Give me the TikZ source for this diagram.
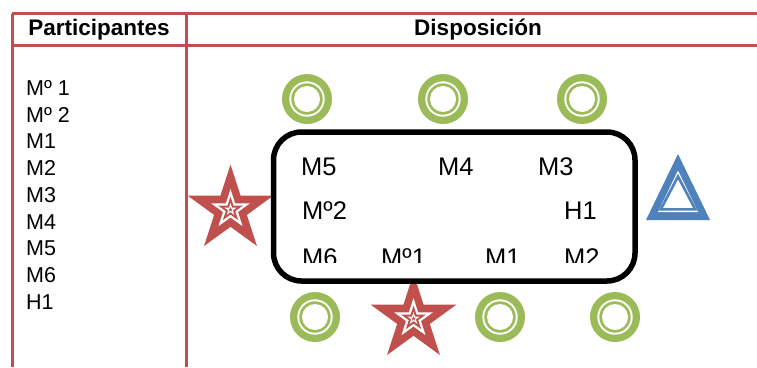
\documentclass[tikz,border=0pt]{standalone}
\usepackage{fontspec}
\setmainfont{Liberation Sans}
\definecolor{tred}{HTML}{C0504D}
\definecolor{tgreen}{HTML}{9BBB59}
\definecolor{tblue}{HTML}{4F81BD}
\newcommand\starpts[1]{(270:#1) -- (306:#1*0.382) -- (342:#1) -- (18:#1*0.382) -- (54:#1) -- (90:#1*0.382) -- (126:#1) -- (162:#1*0.382) -- (198:#1) -- (234:#1*0.382) -- cycle}
\tikzset{
  tline/.style={draw=tred, line width=3bp},
  body/.style={inner sep=0pt, anchor=base west, font=\fontsize{21.5bp}{26bp}\selectfont},
  seat/.style={inner sep=0pt, anchor=base west, font=\fontsize{25.5bp}{30bp}\selectfont},
  head/.style={inner sep=0pt, anchor=base, font=\fontsize{22.5bp}{27bp}\selectfont\bfseries},
  ring/.pic={
    \fill[tgreen] (0,0) circle (25);
    \fill[white] (0,0) circle (17.7);
    \fill[tgreen] (0,0) circle (15.7);
    \fill[white] (0,0) circle (13);
  },
  redstar/.pic={
    \fill[tred] \starpts{45};
    \fill[white] \starpts{20.5};
    \fill[tred] \starpts{13};
    \fill[white] \starpts{6.5};
    \fill[tred] \starpts{2.5};
  }
}
\begin{document}
\begin{tikzpicture}[x=1bp, y=-1bp]
\useasboundingbox (0,0) rectangle (757,367);
% table
\coordinate (tl) at (12,13.5);
\coordinate (tr) at (757,13.5);
\coordinate (hl) at (12,45);
\coordinate (hr) at (757,45);
\coordinate (lb) at (12,367);
\coordinate (dt) at (186,13.5);
\coordinate (db) at (186,367);
\draw[tline] (tl) -- (tr);
\draw[tline] (hl) -- (hr);
\draw[tline] (tl) -- (lb);
\draw[tline] (dt) -- (db);
\node[head] (h1) at (99,35) {Participantes};
\node[head] (h2) at (478,35) {Disposición};
% list
\node[body] (l1) at (26,95.3) {Mº 1};
\node[body] (l2) at (26,122) {Mº 2};
\node[body] (l3) at (26,148.8) {M1};
\node[body] (l4) at (26,175.5) {M2};
\node[body] (l5) at (26,202.3) {M3};
\node[body] (l6) at (26,229) {M4};
\node[body] (l7) at (26,255.8) {M5};
\node[body] (l8) at (26,282.5) {M6};
\node[body] (l9) at (26,309.3) {H1};
% rings
\pic at (307,99) {ring};
\pic at (443,99) {ring};
\pic at (582,99) {ring};
\pic at (315,317) {ring};
\pic at (500,317) {ring};
\pic at (615,317) {ring};
% stars
\pic at (230.5,209.6) {redstar};
\pic at (413.5,318.6) {redstar};
% triangle
\fill[tblue] (678,154) -- (710,220) -- (646,220) -- cycle;
\fill[white] (678,170.5) -- (698,212) -- (658,212) -- cycle;
\draw[tblue, line width=2.6bp, fill=white, line join=miter] (678,176.5) -- (695.2,209.3) -- (660.8,209.3) -- cycle;
% table rectangle
\draw[black, line width=5.5bp, fill=white, rounded corners=28bp] (273.5,132) rectangle (635,281);
% inner labels
\node[seat] (m5) at (301,175) {M5};
\node[seat] (m4) at (438,175) {M4};
\node[seat] (m3) at (538,175) {M3};
\node[seat] (mo2) at (302,219.3) {Mº2};
\node[seat] (h1b) at (564,219.3) {H1};
\begin{scope}
\clip (280,235) rectangle (630,262.3);
\node[seat] (m6) at (302,266) {M6};
\node[seat] (mo1) at (381,266) {Mº1};
\node[seat] (m1) at (485,266) {M1};
\node[seat] (m2) at (564,266) {M2};
\end{scope}
\end{tikzpicture}
\end{document}
